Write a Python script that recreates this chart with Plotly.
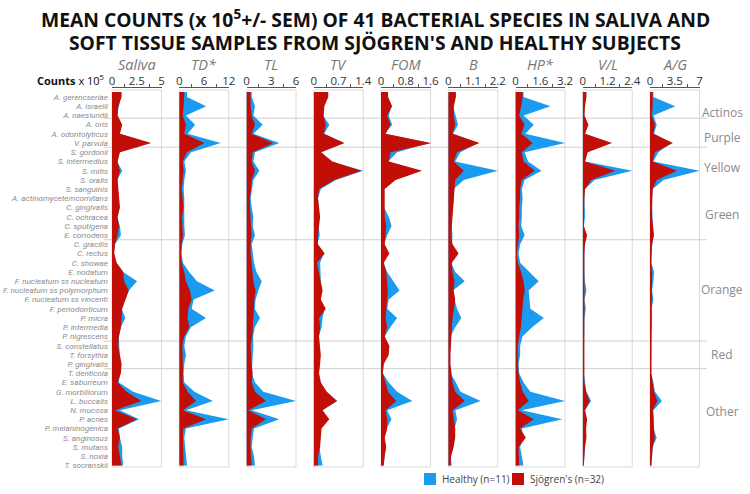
import plotly.graph_objects as go

# ---------------- data ----------------
species = ["A. gerencseriae", "A. israelii", "A. naeslundii", "A. oris", "A. odontolyticus",
           "V. parvula", "S. gordonii", "S. intermedius", "S. mitis", "S. oralis", "S. sanguinis",
           "A. actinomycetemcomitans", "C. gingivalis", "C. ochracea", "C. sputigena", "E. corrodens",
           "C. gracilis", "C. rectus", "C. showae", "E. nodatum", "F. nucleatum ss nucleatum",
           "F. nucleatum ss polymorphum", "F. nucleatum ss vincenti", "F. periodonticum", "P. micra",
           "P. intermedia", "P. nigrescens", "S. constellatus", "T. forsythia", "P. gingivalis",
           "T. denticola", "E. saburreum", "G. morbillorum", "L. buccalis", "N. mucosa", "P. acnes",
           "P. melaninogenica", "S. anginosus", "S. mutans", "S. noxia", "T. socranskii"]

panel_names = ["Saliva", "TD*", "TL", "TV", "FOM", "B", "HP*", "V/L", "A/G"]
panel_max = [5, 12, 6, 1.4, 1.6, 2.2, 3.2, 2.4, 7]
panel_ticktext = [["0", "2.5", "5"], ["0", "6", "12"], ["0", "3", "6"], ["0", "0.7", "1.4"],
                  ["0", "0.8", "1.6"], ["0", "1.1", "2.2"], ["0", "1.6", "3.2"],
                  ["0", "1.2", "2.4"], ["0", "3.5", "7"]]

healthy_saliva = [0.9, 0.7, 0.5, 0.97, 0.77, 3.8, 0.77, 0.5, 1.03, 0.5, 0.57, 0.63, 0.77, 0.5, 0.8, 0.9, 0.3, 0.17, 0.43, 1.13,
                  2.53, 1.7, 1.3, 0.97, 1.35, 0.9, 0.7, 0.7, 0.77, 0.9, 0.83, 0.7, 2.13, 4.97, 0.8, 2.73, 0.7, 0.8, 1.03, 1.03, 1.13]
sjogren_saliva = [0.97, 0.63, 0.57, 1.03, 0.8, 3.97, 0.8, 0.57, 0.8, 0.57, 0.63, 0.7, 0.8, 0.57, 0.7, 0.57, 0.3, 0.23, 0.47, 1.13,
                  1.23, 1.7, 1.37, 1.03, 0.97, 0.9, 0.7, 0.63, 0.8, 0.97, 0.9, 0.57, 1.47, 2.97, 0.3, 2.5, 0.57, 0.8, 0.63, 0.8, 0.97]

healthy_td = [1.88, 6.53, 1.63, 3.84, 2.04, 10.04, 2.86, 1.22, 1.63, 1.22, 1.06, 1.22, 1.22, 1.06, 1.22, 1.39, 0.73, 0.57, 0.9, 2.4,
              4.3, 8.6, 3.5, 3.0, 6.5, 2.8, 1.6, 1.22, 1.63, 1.22, 1.06, 1.22, 3.67, 8.16, 1.63, 12.0, 1.63, 1.22, 1.39, 1.63, 1.88]
sjogren_td = [1.22, 1.06, 0.82, 1.63, 1.22, 6.12, 1.88, 0.82, 1.06, 0.9, 0.57, 0.82, 1.06, 0.65, 0.82, 0.9, 0.57, 0.41, 0.57, 1.2,
              1.6, 2.6, 3.0, 2.2, 2.0, 2.45, 1.2, 0.73, 0.82, 0.9, 0.9, 0.82, 2.04, 4.08, 0.9, 6.53, 0.98, 0.9, 0.9, 0.9, 1.06]

healthy_tl = [0.63, 1.03, 0.83, 1.96, 0.83, 3.98, 1.03, 0.83, 1.56, 0.83, 0.63, 0.5, 0.63, 0.83, 0.75, 1.03, 0.63, 0.75, 0.91, 1.2,
              1.84, 1.43, 1.1, 1.0, 1.64, 1.0, 0.8, 0.83, 0.75, 0.63, 0.63, 1.03, 2.04, 6.0, 0.63, 3.98, 0.91, 0.75, 0.63, 0.91, 1.03]
sjogren_tl = [0.5, 0.5, 0.63, 1.03, 0.63, 3.25, 0.75, 0.63, 1.03, 0.63, 0.55, 0.42, 0.42, 0.5, 0.5, 0.63, 0.5, 0.5, 0.63, 0.75,
              0.83, 1.1, 0.95, 0.9, 0.83, 0.8, 0.7, 0.5, 0.55, 0.63, 0.75, 0.63, 1.03, 2.36, 0.22, 2.36, 0.63, 0.5, 0.5, 0.55, 0.63]

healthy_tv = [0.39, 0.28, 0.26, 0.44, 0.3, 0.85, 0.22, 0.49, 1.4, 0.63, 0.2, 0.12, 0.14, 0.16, 0.14, 0.17, 0.1, 0.28, 0.18, 0.18,
              0.2, 0.22, 0.18, 0.31, 0.25, 0.22, 0.14, 0.16, 0.18, 0.16, 0.14, 0.2, 0.34, 0.66, 0.23, 0.41, 0.2, 0.18, 0.16, 0.2, 0.25]
sjogren_tv = [0.41, 0.3, 0.28, 0.34, 0.28, 0.87, 0.2, 0.53, 1.34, 0.58, 0.15, 0.12, 0.15, 0.18, 0.15, 0.12, 0.12, 0.31, 0.09, 0.15,
              0.2, 0.25, 0.2, 0.34, 0.15, 0.18, 0.15, 0.18, 0.2, 0.18, 0.15, 0.2, 0.37, 0.66, 0.25, 0.44, 0.22, 0.2, 0.18, 0.12, 0.12]

healthy_fom = [0.21, 0.34, 0.25, 0.36, 0.12, 1.55, 0.52, 0.23, 1.28, 0.45, 0.1, 0.1, 0.1, 0.25, 0.34, 0.2, 0.1, 0.23, 0.08, 0.2,
               0.41, 0.6, 0.25, 0.2, 0.52, 0.3, 0.12, 0.23, 0.21, 0.08, 0.06, 0.25, 0.52, 1.01, 0.2, 0.34, 0.18, 0.11, 0.15, 0.11, 0.08]
sjogren_fom = [0.23, 0.36, 0.2, 0.31, 0.15, 1.63, 0.31, 0.25, 1.33, 0.47, 0.12, 0.12, 0.12, 0.12, 0.17, 0.15, 0.12, 0.27, 0.09, 0.17,
               0.2, 0.22, 0.2, 0.17, 0.15, 0.2, 0.12, 0.27, 0.25, 0.09, 0.06, 0.15, 0.23, 0.49, 0.15, 0.2, 0.2, 0.12, 0.17, 0.12, 0.09]

healthy_b = [0.31, 0.22, 0.31, 0.43, 0.22, 1.33, 0.54, 0.31, 2.2, 0.69, 0.24, 0.25, 0.21, 0.16, 0.16, 0.19, 0.16, 0.4, 0.13, 0.31,
             0.73, 0.21, 0.28, 0.39, 0.58, 0.31, 0.1, 0.07, 0.07, 0.07, 0.1, 0.34, 0.54, 1.44, 0.31, 0.39, 0.28, 0.28, 0.21, 0.1, 0.16]
sjogren_b = [0.34, 0.25, 0.24, 0.31, 0.19, 1.39, 0.39, 0.24, 0.69, 0.31, 0.28, 0.28, 0.24, 0.19, 0.19, 0.13, 0.19, 0.46, 0.16, 0.19,
             0.28, 0.24, 0.31, 0.24, 0.19, 0.16, 0.13, 0.1, 0.1, 0.1, 0.13, 0.19, 0.31, 0.73, 0.19, 0.24, 0.31, 0.31, 0.24, 0.13, 0.1]

healthy_hp = [0.52, 2.26, 0.52, 1.18, 0.63, 3.2, 0.59, 0.81, 1.68, 0.59, 0.41, 0.46, 0.41, 0.41, 0.37, 0.59, 0.3, 0.2, 0.3, 0.9,
              1.5, 0.85, 0.9, 0.96, 1.83, 1.07, 0.45, 0.3, 0.3, 0.2, 0.24, 0.52, 0.96, 3.2, 0.41, 3.03, 0.41, 0.52, 0.3, 0.41, 0.52]
sjogren_hp = [0.46, 0.37, 0.24, 0.59, 0.37, 1.11, 0.41, 0.52, 1.24, 0.41, 0.3, 0.3, 0.24, 0.24, 0.2, 0.24, 0.15, 0.09, 0.15, 0.37,
              0.52, 0.6, 0.5, 0.45, 0.4, 0.35, 0.24, 0.15, 0.15, 0.15, 0.2, 0.3, 0.46, 0.85, 0.15, 1.18, 0.3, 0.67, 0.2, 0.24, 0.24]

healthy_vl = [0.15, 0.08, 0.08, 0.24, 0.11, 1.31, 0.21, 0.11, 2.4, 0.57, 0.11, 0.08, 0.08, 0.11, 0.05, 0.18, 0.08, 0.07, 0.07, 0.08,
              0.1, 0.18, 0.08, 0.15, 0.08, 0.07, 0.05, 0.05, 0.05, 0.05, 0.05, 0.1, 0.18, 0.41, 0.11, 0.18, 0.15, 0.15, 0.1, 0.07, 0.05]
sjogren_vl = [0.18, 0.11, 0.08, 0.28, 0.11, 1.42, 0.24, 0.11, 1.58, 0.41, 0.11, 0.08, 0.08, 0.08, 0.05, 0.21, 0.11, 0.08, 0.08, 0.08,
              0.08, 0.08, 0.08, 0.08, 0.08, 0.07, 0.05, 0.05, 0.05, 0.05, 0.05, 0.08, 0.16, 0.33, 0.11, 0.21, 0.16, 0.18, 0.11, 0.08, 0.05]

healthy_ag = [0.48, 3.57, 0.48, 0.95, 0.57, 3.0, 1.19, 0.48, 7.0, 1.9, 0.38, 0.29, 0.29, 0.29, 0.38, 0.48, 0.29, 0.19, 0.19, 0.57,
              0.48, 0.29, 0.48, 0.19, 0.29, 0.19, 0.19, 0.19, 0.19, 0.19, 0.19, 0.48, 0.71, 1.67, 0.48, 0.57, 0.48, 0.95, 0.38, 0.29, 0.19]
sjogren_ag = [0.38, 0.38, 0.24, 0.71, 0.48, 3.24, 0.71, 0.38, 3.81, 0.95, 0.38, 0.29, 0.29, 0.29, 0.38, 0.57, 0.29, 0.19, 0.19, 0.29,
              0.29, 0.29, 0.29, 0.19, 0.19, 0.19, 0.19, 0.19, 0.19, 0.19, 0.19, 0.38, 0.57, 1.05, 0.38, 0.48, 0.57, 0.67, 0.38, 0.29, 0.19]

healthy_series = [healthy_saliva, healthy_td, healthy_tl, healthy_tv, healthy_fom, healthy_b, healthy_hp, healthy_vl, healthy_ag]
sjogren_series = [sjogren_saliva, sjogren_td, sjogren_tl, sjogren_tv, sjogren_fom, sjogren_b, sjogren_hp, sjogren_vl, sjogren_ag]

group_labels = ["Actinos", "Purple", "Yellow", "Green", "Orange", "Red", "Other"]
group_label_rows = [1.7, 4.45, 7.7, 12.8, 20.9, 28.0, 34.2]
group_boundaries = [2.3, 5.45, 15.5, 26.5, 29.5]

legend_names = ["Healthy (n=11)", "Sjögren's (n=32)"]

title_lines = ["MEAN COUNTS (x 10<sup>5</sup>+/- SEM) OF 41 BACTERIAL SPECIES IN SALIVA AND",
               "SOFT TISSUE SAMPLES FROM SJÖGREN'S AND HEALTHY SUBJECTS"]

# ---------------- layout helpers ----------------
W, H = 750, 494
BLUE = "#1a9bef"
RED = "#c10f07"


def fx(p):
    return p / W


def fy(p):
    return 1 - p / H


row0_px, row_step = 97.0, 9.21
box_top, box_bot = 90.0, 467.0
y_range = [(box_bot - row0_px) / row_step, (box_top - row0_px) / row_step]
fill_top = (92.0 - row0_px) / row_step
rows = list(range(len(species)))

left0, step, pw = 112.0, 67.25, 49.5

fig = go.Figure()
layout = dict(
    width=W, height=H,
    margin=dict(l=0, r=0, t=0, b=0, autoexpand=False),
    paper_bgcolor="white", plot_bgcolor="rgba(0,0,0,0)",
    font=dict(family="Open Sans", color="#444"),
    showlegend=False,
)
shapes, annotations = [], []

for k in range(len(panel_names)):
    xa = "x" if k == 0 else f"x{k + 1}"
    xkey = "xaxis" if k == 0 else f"xaxis{k + 1}"
    m = panel_max[k]
    x0 = left0 + k * step
    layout[xkey] = dict(
        domain=[fx(x0), fx(x0 + pw)], range=[0, m], anchor="free", position=fy(87), side="top",
        tickmode="array", tickvals=[0, m / 2, m], ticktext=panel_ticktext[k], ticks="",
        minor=dict(tickmode="array", tickvals=[m / 4, 3 * m / 4], ticks="outside", ticklen=3,
                   tickcolor="#555", tickwidth=1, showgrid=False),
        showline=True, linecolor="#555", linewidth=1, showgrid=False, zeroline=False,
        tickfont=dict(size=11.5, color="#333"), ticklabelstandoff=-3, fixedrange=True,
        automargin=False,
    )
    for vals, col in ((healthy_series[k], BLUE), (sjogren_series[k], RED)):
        fig.add_trace(go.Scatter(
            x=[vals[0]] + vals, y=[fill_top] + rows, xaxis=xa, yaxis="y",
            mode="lines", line=dict(width=0, color=col), fill="tozerox", fillcolor=col,
            showlegend=False, hoverinfo="skip"))
    ref = "x" if k == 0 else f"x{k + 1}"
    shapes.append(dict(type="rect", xref=f"{ref} domain", yref="y domain", x0=0, x1=1, y0=0, y1=1,
                       line=dict(color="#dadada", width=1), layer="below"))
    annotations.append(dict(text=f"<i>{panel_names[k]}</i>", xref=f"{ref} domain", yref="paper",
                            x=0.5, y=fy(64), xanchor="center", yanchor="middle", showarrow=False,
                            font=dict(size=14.5, color="#777")))

layout["yaxis"] = dict(
    domain=[fy(box_bot), fy(box_top)], range=y_range, anchor="x",
    tickmode="array", tickvals=rows, ticktext=species, ticks="",
    tickfont=dict(size=8.1, color="#8c8c8c", style="italic", family="Roboto"),
    showgrid=False, zeroline=False, showline=False, ticklabelstandoff=3, fixedrange=True,
    automargin=False,
)

for b in group_boundaries:
    shapes.append(dict(type="line", xref="paper", yref="y", x0=fx(104), x1=fx(707), y0=b, y1=b,
                       line=dict(color="#cfcfcf", width=1), layer="below"))

for lab, r in zip(group_labels, group_label_rows):
    annotations.append(dict(text=lab, xref="paper", yref="y", x=fx(722), y=r, xanchor="center",
                            yanchor="middle", showarrow=False, font=dict(size=12, color="#8a8a8a")))

annotations.append(dict(text="<b>Counts</b> x 10<sup>5</sup>", xref="paper", yref="paper",
                        x=fx(106), y=fy(80), xanchor="right", yanchor="middle", showarrow=False,
                        font=dict(size=11, color="#111")))

for line_text, ypx in zip(title_lines, [19, 42.5]):
    annotations.append(dict(
        text=f"<b>{line_text}</b>", xref="paper", yref="paper", x=0.5, y=fy(ypx),
        xanchor="center", yanchor="middle", showarrow=False,
        font=dict(size=19.3, color="#111", family="Open Sans")))

# legend (drawn as swatches + labels)
for name, col, sx in zip(legend_names, [BLUE, RED], [424, 512]):
    shapes.append(dict(type="rect", xref="paper", yref="paper", x0=fx(sx), x1=fx(sx + 12),
                       y0=fy(485), y1=fy(473), fillcolor=col, line=dict(width=0)))
    annotations.append(dict(text=name, xref="paper", yref="paper", x=fx(sx + 16), y=fy(479),
                            xanchor="left", yanchor="middle", showarrow=False,
                            font=dict(size=10, color="#444")))

layout["shapes"] = shapes
layout["annotations"] = annotations
fig.update_layout(**layout)

fig.write_html("out.html", config={"displayModeBar": False},
               post_script="document.body.style.margin='0';document.body.style.padding='0';")
